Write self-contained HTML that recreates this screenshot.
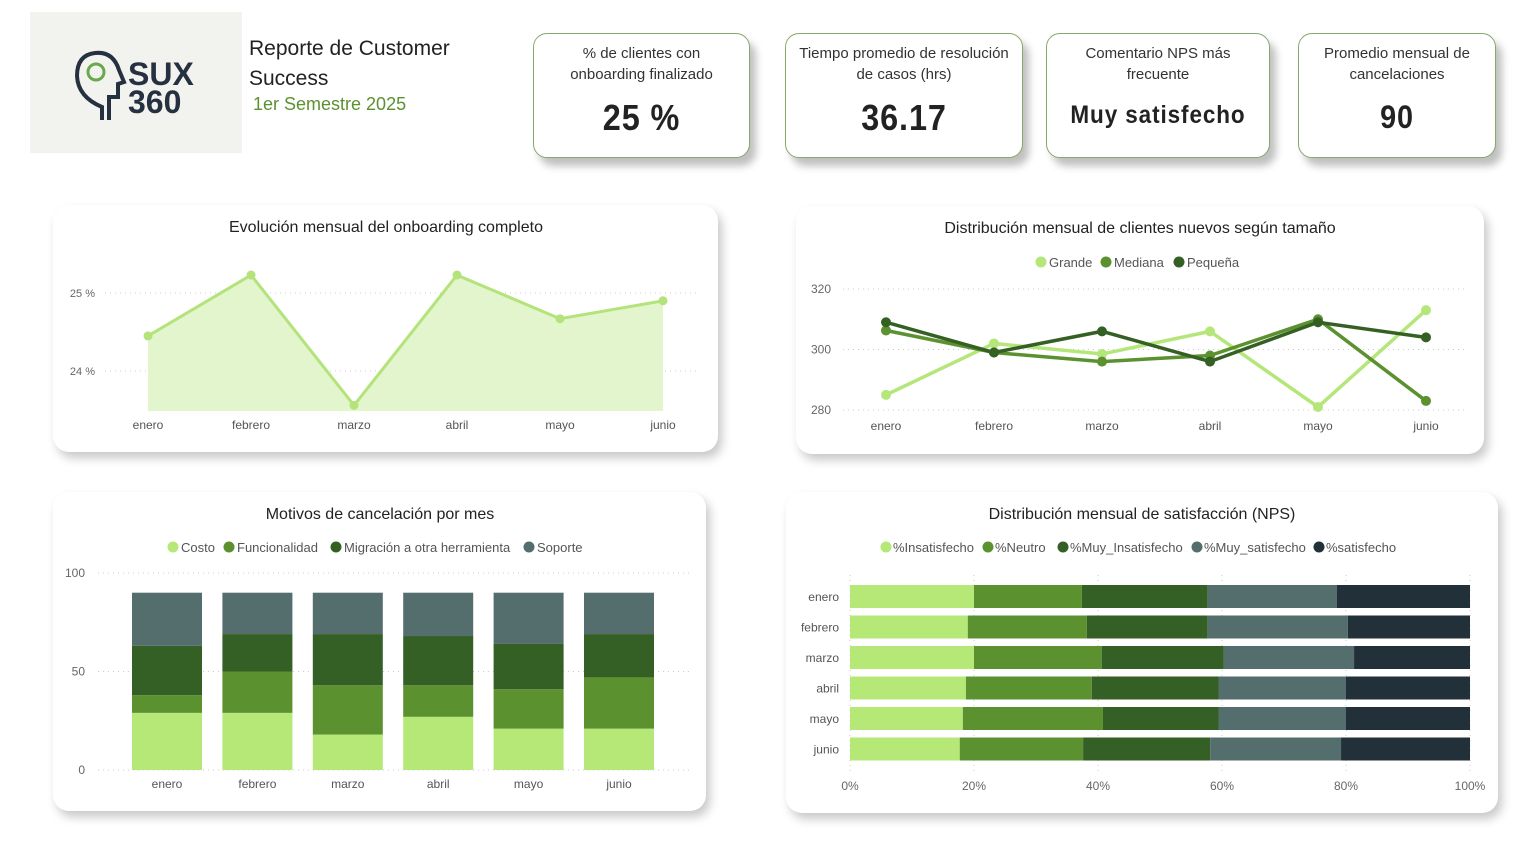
<!DOCTYPE html>
<html><head><meta charset="utf-8">
<style>
body{margin:0;width:1524px;height:855px;background:#fff;font-family:"Liberation Sans",sans-serif;position:relative;overflow:hidden}
.card{position:absolute;background:#fff;border:1px solid #86a86a;border-radius:14px;box-shadow:6px 8px 8px rgba(0,0,0,0.25);text-align:center;color:#333}
.card .t{font-size:15px;line-height:21px;margin-top:9px}
.card .v{font-size:36px;color:#222;margin-top:12px;letter-spacing:1px;font-weight:bold;transform:scaleX(0.9)}
.panel{position:absolute;background:#fff;border-radius:16px;box-shadow:4px 6px 10px rgba(0,0,0,0.22)}
svg{position:absolute;left:0;top:0}
</style></head><body>
<div style="position:absolute;left:30px;top:12px;width:212px;height:141px;background:#f2f3ee">
<svg width="212" height="141" style="position:absolute;left:0;top:0">
<path d="M72 108 V95 Q48 85 47 64 Q47 43 65 41 Q83 39 89 58 L94 70 L88 72 V85 H79 V108" fill="none" stroke="#253040" stroke-width="4"/>
<circle cx="66" cy="60" r="8" fill="none" stroke="#6aa84f" stroke-width="3"/>
<text x="98" y="73" font-size="32" font-weight="bold" fill="#253040">SUX</text>
<text x="98" y="101" font-size="32" font-weight="bold" fill="#253040">360</text>
</svg></div>
<div style="position:absolute;left:249px;top:34px;font-size:21px;line-height:30px;color:#222">Reporte de Customer<br>Success</div>
<div style="position:absolute;left:253px;top:94px;font-size:18px;color:#5c912f">1er Semestre 2025</div>

<div class="card" style="left:533px;top:33px;width:215px;height:123px"><div class="t">% de clientes con<br>onboarding finalizado</div><div class="v">25 %</div></div>
<div class="card" style="left:785px;top:33px;width:236px;height:123px"><div class="t">Tiempo promedio de resolución<br>de casos (hrs)</div><div class="v">36.17</div></div>
<div class="card" style="left:1046px;top:33px;width:222px;height:123px"><div class="t">Comentario NPS más<br>frecuente</div><div class="v" style="font-size:25px;margin-top:16px">Muy satisfecho</div></div>
<div class="card" style="left:1298px;top:33px;width:196px;height:123px"><div class="t">Promedio mensual de<br>cancelaciones</div><div class="v" style="font-size:32px;margin-top:14px">90</div></div>

<div class="panel" style="left:53px;top:205px;width:665px;height:247px"></div>
<div class="panel" style="left:796px;top:206px;width:688px;height:248px"></div>
<div class="panel" style="left:53px;top:492px;width:653px;height:319px"></div>
<div class="panel" style="left:786px;top:492px;width:712px;height:321px"></div>

<svg id="s" width="1524" height="855" font-family="Liberation Sans, sans-serif"></svg>
<script>
const months=["enero","febrero","marzo","abril","mayo","junio"];
const onboard=[24.45,25.23,23.56,25.23,24.67,24.9];
const onbTicks=[24,25];
const sizeNames=["Grande","Mediana","Pequeña"];
const grande=[285,302,298.5,306,281,313];
const mediana=[306.3,299,296,298,310,283];
const pequena=[309,299,306,296,309,304];
const sizeTicks=[280,300,320];
const cancelNames=["Costo","Funcionalidad","Migración a otra herramienta","Soporte"];
const costo=[29,29,18,27,21,21];
const funcionalidad=[9,21,25,16,20,26];
const migracion=[25,19,26,25,23,22];
const soporte=[27,21,21,22,26,21];
const cancelTicks=[0,50,100];
const npsNames=["%Insatisfecho","%Neutro","%Muy_Insatisfecho","%Muy_satisfecho","%satisfecho"];
const insat=[20,19,20,18.7,18.2,17.7];
const neutro=[17.4,19.2,20.6,20.3,22.6,19.9];
const muyInsat=[20.3,19.5,19.7,20.5,18.7,20.5];
const muySat=[20.8,22.6,21,20.5,20.5,21.1];
const sat=[21.5,19.7,18.7,20,20,20.8];
const npsTicks=[0,20,40,60,80,100];

const S=document.getElementById('s');const NS="http://www.w3.org/2000/svg";
function mk(tag,a,parent){const e=document.createElementNS(NS,tag);for(const k in a)e.setAttribute(k,a[k]);(parent||S).appendChild(e);return e;}
function txt(x,y,s,sz,fill,anchor){const e=mk('text',{x:x,y:y,'font-size':sz,fill:fill,'text-anchor':anchor||'middle'});e.textContent=s;return e;}
function dot(cx,cy,c){const e=mk('circle',{cx:cx,cy:cy,r:5,fill:c});return e;}

let t;
t=txt(386,232,"Evolución mensual del onboarding completo",16,"#222");

t=txt(1140,233,"Distribución mensual de clientes nuevos según tamaño",16,"#222");

t=txt(380,519,"Motivos de cancelación por mes",16,"#222");

t=txt(1142,519,"Distribución mensual de satisfacción (NPS)",16,"#222");


const x1=i=>148+i*103, y1=v=>293+(25-v)*78;
onbTicks.forEach(v=>{const g=mk('line',{x1:105,x2:700,y1:y1(v),y2:y1(v),stroke:'#ccc','stroke-dasharray':'1 4'});

const l=txt(95,y1(v)+4,v+" %",11,"#666","end");});
let pts=onboard.map((v,i)=>x1(i)+","+y1(v)).join(" ");
let area=mk('polygon',{points:x1(0)+",411 "+pts+" "+x1(5)+",411",fill:'#e2f5cc'});

let ln=mk('polyline',{points:pts,fill:'none',stroke:'#b3e37a','stroke-width':3});

onboard.forEach((v,i)=>{const d=dot(x1(i),y1(v),'#b3e37a');d.setAttribute('r',4.5);

const l=txt(x1(i),429,months[i],12,"#555");});

const x2=i=>886+i*108, y2=v=>289+(320-v)*3.025;
sizeTicks.forEach(v=>{const g=mk('line',{x1:843,x2:1468,y1:y2(v),y2:y2(v),stroke:'#ccc','stroke-dasharray':'1 4'});

const l=txt(831,y2(v)+4,String(v),12,"#666","end");});
const sizeSeries=[grande,mediana,pequena], sizeColors=['#b5e67a','#5c912f','#346024'];
sizeSeries.forEach((arr,s)=>{const p=mk('polyline',{points:arr.map((v,i)=>x2(i)+","+y2(v)).join(" "),fill:'none',stroke:sizeColors[s],'stroke-width':3.5});

arr.forEach((v,i)=>{const d=dot(x2(i),y2(v),sizeColors[s]);});});
months.forEach((m,i)=>{const l=txt(x2(i),430,m,12,"#555");});
const lg2=[1041,1106,1179];
sizeNames.forEach((n,i)=>{const c=mk('circle',{cx:lg2[i],cy:262,r:5.5,fill:sizeColors[i]});
const l=txt(lg2[i]+8,267,n,13,"#555","start");});

const x3=i=>167+i*90.4, y3=v=>770-v*1.97;
cancelTicks.forEach(v=>{const g=mk('line',{x1:98,x2:690,y1:y3(v),y2:y3(v),stroke:'#ccc','stroke-dasharray':'1 4'});

const l=txt(85,y3(v)+4,String(v),12,"#666","end");});
const cancelSeries=[costo,funcionalidad,migracion,soporte], cancelColors=['#b5e877','#5c912f','#345f25','#546e6e'];
months.forEach((m,i)=>{let base=0;cancelSeries.forEach((arr,s)=>{const v=arr[i];
const r=mk('rect',{x:x3(i)-35,y:y3(base+v),width:70,height:v*1.97,fill:cancelColors[s]});
base+=v;});
const l=txt(x3(i),788,m,12,"#555");});
const lg3=[173,229,336,529];
cancelNames.forEach((n,i)=>{const c=mk('circle',{cx:lg3[i],cy:547,r:5.5,fill:cancelColors[i]});
const l=txt(lg3[i]+8,552,n,13,"#555","start");});

const x4=v=>850+v*6.2, y4=i=>585+i*30.5;
npsTicks.forEach(v=>{const g=mk('line',{x1:x4(v),x2:x4(v),y1:575,y2:775,stroke:'#ccc','stroke-dasharray':'1 4'});

const l=txt(x4(v),790,v+"%",12,"#666");});
const npsSeries=[insat,neutro,muyInsat,muySat,sat], npsColors=['#b5e877','#5c912f','#345f25','#546e6e','#22303a'];
months.forEach((m,i)=>{let base=0;npsSeries.forEach((arr,s)=>{const v=arr[i];
const r=mk('rect',{x:x4(base),y:y4(i),width:v*6.2,height:23,fill:npsColors[s]});
base+=v;});
const l=txt(839,y4(i)+16,m,12,"#555","end");});
const lg4=[886,988,1063,1197,1319];
npsNames.forEach((n,i)=>{const c=mk('circle',{cx:lg4[i],cy:547,r:5.5,fill:npsColors[i]});
const l=txt(lg4[i]+7,552,n,13,"#555","start");});
</script>
</body></html>
